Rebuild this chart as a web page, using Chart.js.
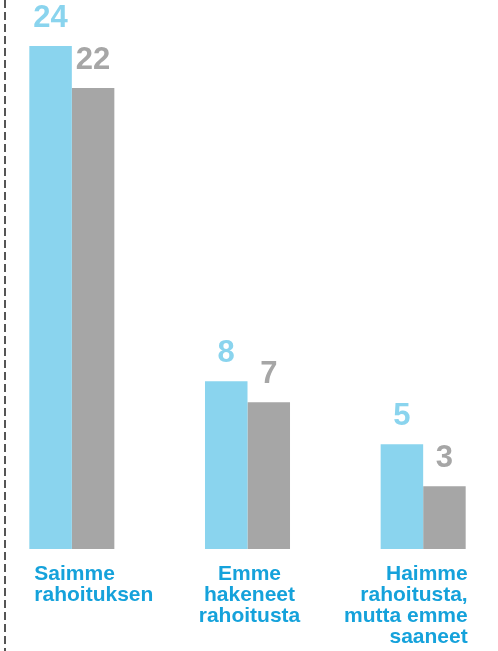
<!DOCTYPE html>
<html>
<head>
<meta charset="utf-8">
<script src="https://cdn.jsdelivr.net/npm/chart.js@4"></script>
<style>
  html, body { margin: 0; padding: 0; background: #fff; overflow: hidden; }
  #wrap { position: relative; width: 498px; height: 651px; }
  #chart { position: absolute; left: -16px; top: 0; }
</style>
</head>
<body>
<div id="wrap"><canvas id="chart" width="527" height="651"></canvas></div>
<script>
// chart data
const categories = [
    ['Saimme', 'rahoituksen'],
    ['Emme', 'hakeneet', 'rahoitusta'],
    ['Haimme', 'rahoitusta,', 'mutta emme', 'saaneet']
];
const seriesBlue = [24, 8, 5];
const seriesGrey = [22, 7, 3];
const labelAlign = ['left', 'center', 'right'];

const BLUE = '#8ad4ee';
const GREY = '#a6a6a6';
const TEXT_BLUE = '#15a2db';

// dashed line at the left + value labels + category labels
const decorations = {
    id: 'decorations',
    beforeDraw(chart) {
        const ctx = chart.ctx;
        ctx.save();
        ctx.strokeStyle = '#555555';
        ctx.lineWidth = 2;
        ctx.setLineDash([8, 4]);
        ctx.beginPath();
        ctx.moveTo(21, 0);
        ctx.lineTo(21, 651);
        ctx.stroke();
        ctx.restore();
    },
    afterDatasetsDraw(chart) {
        const ctx = chart.ctx;
        ctx.save();
        ctx.font = 'bold 31px "Liberation Sans", Arial, sans-serif';
        ctx.textAlign = 'center';
        ctx.textBaseline = 'alphabetic';
        chart.data.datasets.forEach((ds, i) => {
            const meta = chart.getDatasetMeta(i);
            ctx.fillStyle = ds.backgroundColor;
            meta.data.forEach((bar, j) => {
                ctx.fillText(String(ds.data[j]), bar.x, bar.y - 19);
            });
        });

        // category labels
        ctx.font = 'bold 21px "Liberation Sans", Arial, sans-serif';
        ctx.fillStyle = TEXT_BLUE;
        const blueMeta = chart.getDatasetMeta(0);
        const greyMeta = chart.getDatasetMeta(1);
        categories.forEach((lines, j) => {
            const b = blueMeta.data[j];
            const g = greyMeta.data[j];
            const left = b.x - b.width / 2;
            const right = g.x + g.width / 2;
            let x;
            if (labelAlign[j] === 'left') x = left + 5;
            else if (labelAlign[j] === 'right') x = right + 2;
            else x = (left + right) / 2 + 2;
            ctx.textAlign = labelAlign[j];
            lines.forEach((line, k) => {
                ctx.fillText(line, x, 580 + k * 21);
            });
        });
        ctx.restore();
    }
};

new Chart(document.getElementById('chart'), {
    type: 'bar',
    data: {
        labels: categories.map(c => c.join(' ')),
        datasets: [
            { data: seriesBlue, backgroundColor: BLUE, borderWidth: 0 },
            { data: seriesGrey, backgroundColor: GREY, borderWidth: 0 }
        ]
    },
    options: {
        responsive: false,
        animation: false,
        devicePixelRatio: 1,
        layout: { padding: { top: 46, bottom: 102, left: 0, right: 0 } },
        datasets: {
            bar: { categoryPercentage: 0.484, barPercentage: 1.0 }
        },
        plugins: {
            legend: { display: false },
            tooltip: { enabled: false }
        },
        scales: {
            x: { display: false },
            y: { display: false, min: 0, max: 24 }
        }
    },
    plugins: [decorations]
});
</script>
</body>
</html>
